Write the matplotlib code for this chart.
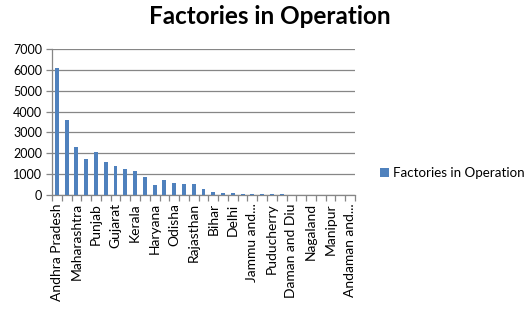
import matplotlib.pyplot as plt
import numpy as np

# data
states = ['Andhra Pradesh', 'Tamil Nadu', 'Maharashtra', 'Uttar Pradesh', 'Punjab',
          'West Bengal', 'Gujarat', 'Karnataka', 'Kerala', 'Madhya Pradesh',
          'Haryana', 'Assam', 'Odisha', 'Chhattisgarh', 'Rajasthan',
          'Jharkhand', 'Bihar', 'Uttarakhand', 'Delhi', 'Himachal Pradesh',
          'Jammu and...', 'Goa', 'Puducherry', 'Chandigarh', 'Daman and Diu',
          'Tripura', 'Nagaland', 'Meghalaya', 'Manipur', 'Sikkim', 'Andaman and...']
factories = [6100, 3600, 2300, 1710, 2050,
             1590, 1395, 1250, 1170, 865,
             470, 720, 580, 515, 515,
             265, 150, 75, 75, 70,
             70, 40, 40, 25, 5,
             0, 0, 0, 0, 0, 0]
yticks = [0, 1000, 2000, 3000, 4000, 5000, 6000, 7000]

plt.rcParams['font.family'] = ['Lato', 'DejaVu Sans']

fig = plt.figure(figsize=(5.31, 3.09), dpi=100)
ax = fig.add_axes([52/531, 1 - 195/309, 303/531, 146/309])

x = np.arange(len(states))
ax.bar(x, factories, width=0.4, color='#4F81BD', zorder=3,
       label='Factories in Operation')

ax.set_xlim(-0.5, len(states) - 0.5)
ax.set_ylim(0, 7000)
ax.set_yticks(yticks)
ax.yaxis.grid(True, color='#868686', linewidth=0.9, zorder=0)

# labels on every other category, tick marks between categories
ax.set_xticks(x[::2])
ax.set_xticklabels(states[::2], rotation=90, fontsize=10)
ax.tick_params(axis='x', which='major', length=0, pad=6)
ax.set_xticks(np.arange(len(states) + 1) - 0.5, minor=True)
ax.tick_params(axis='x', which='minor', length=4, color='#868686', width=0.9)
ax.tick_params(axis='y', length=4, color='#868686', width=0.9, labelsize=9, pad=3)

for side in ['top', 'right']:
    ax.spines[side].set_visible(False)
for side in ['left', 'bottom']:
    ax.spines[side].set_color('#868686')
    ax.spines[side].set_linewidth(0.9)

fig.text(270/531, 1 - 17/309, 'Factories in Operation', ha='center', va='center',
         fontsize=17.5, fontweight='bold')

fig.legend(loc='center left', bbox_to_anchor=(380/531, 1 - 173/309), frameon=False,
           fontsize=9.6, handlelength=0.7, handleheight=0.7, handletextpad=0.25,
           borderpad=0, borderaxespad=0)

fig.savefig('out.png', dpi=100)
